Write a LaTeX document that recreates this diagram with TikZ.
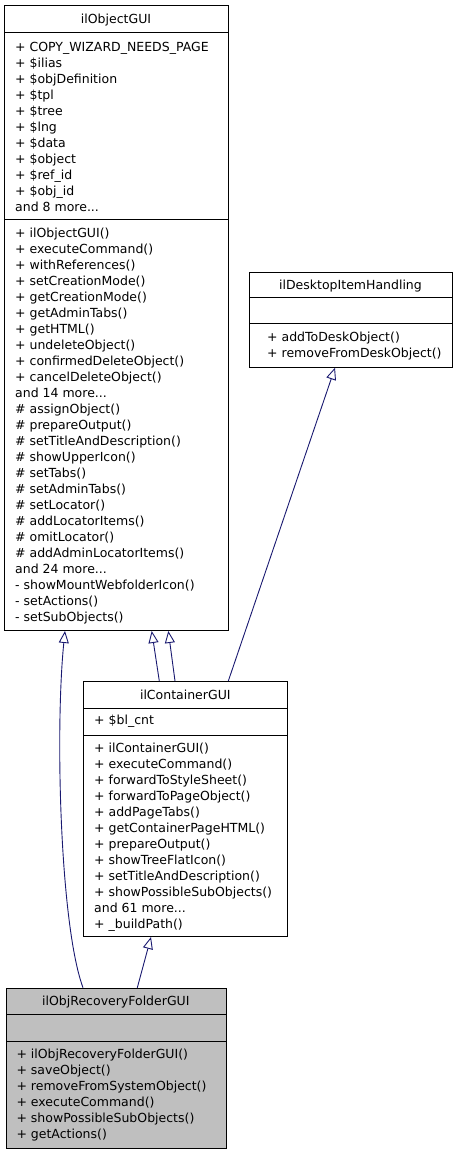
\documentclass[tikz,border=0pt]{standalone}
\usepackage{fontspec}
\setmainfont{DejaVu Sans}
\usetikzlibrary{arrows.meta}
\definecolor{edge}{HTML}{191970}
\definecolor{boxgray}{HTML}{BFBFBF}
\newcommand\mymore{more...}
\tikzset{
  umlbox/.style={draw=black, line width=1pt, fill=white, anchor=north west, inner sep=0pt},
  divider/.style={draw=black, line width=1pt},
  txt/.style={anchor=base west, inner sep=0pt, font=\fontsize{12.5}{16}\selectfont},
  ttl/.style={anchor=base, inner sep=0pt, font=\fontsize{12.5}{16}\selectfont},
  inh/.style={draw=edge, line width=0.9pt, -{Triangle[open, length=12pt, width=10pt, fill=white]}},
}
\begin{document}
\begin{tikzpicture}[x=1pt, y=-1pt]
\useasboundingbox (0,0) rectangle (456,1155);
% ilObjectGUI
\node[umlbox, minimum width=224pt, minimum height=625pt] (obj) at (4,5) {};
\draw[divider] (4,33) -- (228,33);
\draw[divider] (4,220) -- (228,220);
\node[ttl] (objt) at (116,24) {ilObjectGUI};
\foreach \t [count=\i from 0] in {+ COPY\_WIZARD\_NEEDS\_PAGE, + \$ilias, + \$objDefinition, + \$tpl, + \$tree, + \$lng, + \$data, + \$object, + \$ref\_id, + \$obj\_id, and 8 \mymore}
  \node[txt] (obja\i) at (15,{51.3+16*\i}) {\t};
\foreach \t [count=\i from 0] in {+ ilObjectGUI(), + executeCommand(), + withReferences(), + setCreationMode(), + getCreationMode(), + getAdminTabs(), + getHTML(), + undeleteObject(), + confirmedDeleteObject(), + cancelDeleteObject(), and 14 \mymore, \# assignObject(), \# prepareOutput(), \# setTitleAndDescription(), \# showUpperIcon(), \# setTabs(), \# setAdminTabs(), \# setLocator(), \# addLocatorItems(), \# omitLocator(), \# addAdminLocatorItems(), and 24 \mymore, - showMountWebfolderIcon(), - setActions(), - setSubObjects()}
  \node[txt] (objm\i) at (15,{237.3+16*\i}) {\t};
% ilDesktopItemHandling
\node[umlbox, minimum width=202.4pt, minimum height=95pt] (desk) at (249.3,271.7) {};
\draw[divider] (249.3,297.3) -- (451.7,297.3);
\draw[divider] (249.3,323.3) -- (451.7,323.3);
\node[ttl] (deskt) at (350.5,289.6) {ilDesktopItemHandling};
\node[txt] (deskm0) at (267,341.6) {+ addToDeskObject()};
\node[txt] (deskm1) at (267,357.6) {+ removeFromDeskObject()};
% ilContainerGUI
\node[umlbox, minimum width=204pt, minimum height=255pt] (cont) at (83.3,681) {};
\draw[divider] (83.3,708.3) -- (287.3,708.3);
\draw[divider] (83.3,735) -- (287.3,735);
\node[ttl] (contt) at (185.3,699.6) {ilContainerGUI};
\node[txt] (conta0) at (94,724.6) {+ \$bl\_cnt};
\foreach \t [count=\i from 0] in {+ ilContainerGUI(), + executeCommand(), + forwardToStyleSheet(), + forwardToPageObject(), + addPageTabs(), + getContainerPageHTML(), + prepareOutput(), + showTreeFlatIcon(), + setTitleAndDescription(), + showPossibleSubObjects(), and 61 \mymore, + \_buildPath()}
  \node[txt] (contm\i) at (94,{752.3+16*\i}) {\t};
% ilObjRecoveryFolderGUI
\node[umlbox, fill=boxgray, minimum width=219.7pt, minimum height=160pt] (rec) at (6,987.7) {};
\draw[divider] (6,1014) -- (225.7,1014);
\draw[divider] (6,1041) -- (225.7,1041);
\node[ttl] (rect) at (115.85,1005.6) {ilObjRecoveryFolderGUI};
\foreach \t [count=\i from 0] in {+ ilObjRecoveryFolderGUI(), + saveObject(), + removeFromSystemObject(), + executeCommand(), + showPossibleSubObjects(), + getActions()}
  \node[txt] (recm\i) at (16.3,{1058.9+16*\i}) {\t};
% inheritance connectors
\draw[inh] ([xshift=77pt]rec.north west) .. controls (60,925) and (55,730) .. ([xshift=61pt]obj.south west);
\draw[inh] ([xshift=131.3pt]rec.north west) -- ([xshift=67.7pt]cont.south west);
\draw[inh] ([xshift=76pt]cont.north west) -- ([xshift=147.7pt]obj.south west);
\draw[inh] ([xshift=91.7pt]cont.north west) -- ([xshift=164.3pt]obj.south west);
\draw[inh] ([xshift=145pt]cont.north west) -- ([xshift=85.7pt]desk.south west);
\end{tikzpicture}
\end{document}
